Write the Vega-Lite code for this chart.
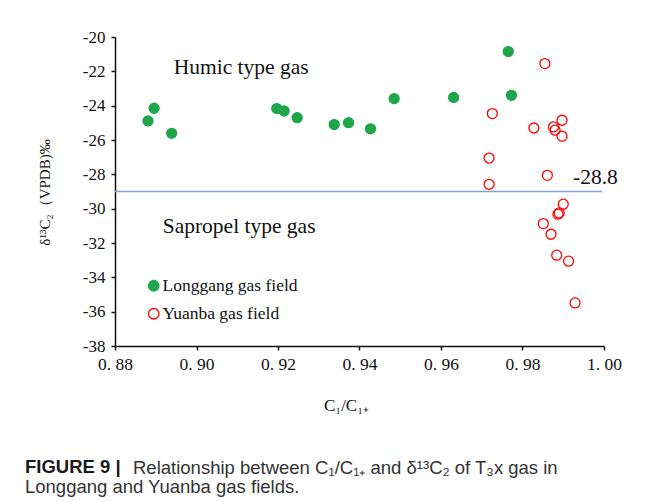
{
  "$schema": "https://vega.github.io/schema/vega-lite/v6.json",
  "autosize": {"type": "pad"},
  "padding": {"left": 25, "top": 28, "right": 0, "bottom": 0},
  "background": "white",
  "config": {"view": {"stroke": null}},
  "title": {
    "text": "FIGURE 9 |",
    "subtitle": "Longgang and Yuanba gas fields.",
    "orient": "bottom",
    "anchor": "start",
    "frame": "group",
    "dx": -90,
    "dy": -20,
    "offset": 0,
    "font": "Liberation Sans",
    "fontSize": 18.5,
    "fontWeight": "bold",
    "color": "#1a1a1a",
    "subtitleFont": "Liberation Sans",
    "subtitleFontSize": 18.5,
    "subtitleColor": "#333333",
    "subtitlePadding": 2
  },
  "datasets": {
    "points": [
      {"field": "Longgang gas field", "ratio": 0.8881, "d13C2": -24.89},
      {"field": "Longgang gas field", "ratio": 0.8896, "d13C2": -24.15},
      {"field": "Longgang gas field", "ratio": 0.8939, "d13C2": -25.61},
      {"field": "Longgang gas field", "ratio": 0.9197, "d13C2": -24.17},
      {"field": "Longgang gas field", "ratio": 0.9215, "d13C2": -24.31},
      {"field": "Longgang gas field", "ratio": 0.9247, "d13C2": -24.70},
      {"field": "Longgang gas field", "ratio": 0.9338, "d13C2": -25.10},
      {"field": "Longgang gas field", "ratio": 0.9373, "d13C2": -24.99},
      {"field": "Longgang gas field", "ratio": 0.9427, "d13C2": -25.35},
      {"field": "Longgang gas field", "ratio": 0.9485, "d13C2": -23.59},
      {"field": "Longgang gas field", "ratio": 0.9631, "d13C2": -23.52},
      {"field": "Longgang gas field", "ratio": 0.9765, "d13C2": -20.85},
      {"field": "Longgang gas field", "ratio": 0.9773, "d13C2": -23.40},
      {"field": "Yuanba gas field", "ratio": 0.9855, "d13C2": -21.55},
      {"field": "Yuanba gas field", "ratio": 0.9726, "d13C2": -24.46},
      {"field": "Yuanba gas field", "ratio": 0.9828, "d13C2": -25.30},
      {"field": "Yuanba gas field", "ratio": 0.9897, "d13C2": -24.85},
      {"field": "Yuanba gas field", "ratio": 0.9876, "d13C2": -25.24},
      {"field": "Yuanba gas field", "ratio": 0.9880, "d13C2": -25.43},
      {"field": "Yuanba gas field", "ratio": 0.9897, "d13C2": -25.78},
      {"field": "Yuanba gas field", "ratio": 0.9718, "d13C2": -27.05},
      {"field": "Yuanba gas field", "ratio": 0.9861, "d13C2": -28.06},
      {"field": "Yuanba gas field", "ratio": 0.9718, "d13C2": -28.58},
      {"field": "Yuanba gas field", "ratio": 0.9900, "d13C2": -29.74},
      {"field": "Yuanba gas field", "ratio": 0.9890, "d13C2": -30.25},
      {"field": "Yuanba gas field", "ratio": 0.9887, "d13C2": -30.32},
      {"field": "Yuanba gas field", "ratio": 0.9851, "d13C2": -30.87},
      {"field": "Yuanba gas field", "ratio": 0.9870, "d13C2": -31.49},
      {"field": "Yuanba gas field", "ratio": 0.9884, "d13C2": -32.71},
      {"field": "Yuanba gas field", "ratio": 0.9913, "d13C2": -33.06},
      {"field": "Yuanba gas field", "ratio": 0.9929, "d13C2": -35.49}
    ],
    "notes": [
      {"label": "Humic type gas", "ratio": 0.8944, "d13C2": -21.79},
      {"label": "Sapropel type gas", "ratio": 0.8917, "d13C2": -31.06},
      {"label": "-28.8", "ratio": 0.9924, "d13C2": -28.22}
    ],
    "boundary": [
      {"ratio": 0.88, "ratio_end": 0.9995, "d13C2": -29.0}
    ]
  },
  "vconcat": [
    {
      "width": 489,
      "height": 309,
      "title": {
        "text": "Relationship between C₁/C₁₊ and δ¹³C₂ of T₃x gas in",
        "orient": "bottom",
        "anchor": "start",
        "frame": "group",
        "dx": 18,
        "offset": 46,
        "font": "Liberation Sans",
        "fontSize": 18.5,
        "fontWeight": "normal",
        "color": "#333333"
      },
      "encoding": {
        "x": {
          "field": "ratio",
          "type": "quantitative",
          "scale": {"domain": [0.88, 1.0], "nice": false, "zero": false},
          "axis": {
            "values": [0.88, 0.9, 0.92, 0.94, 0.96, 0.98, 1.0],
            "labelExpr": "replace(format(datum.value, '.2f'), '.', '. ')",
            "labelFlush": false,
            "labelOverlap": false,
            "title": "C₁/C₁₊",
            "titleFont": "Liberation Serif",
            "titleFontSize": 17,
            "titleFontWeight": "normal",
            "titleColor": "#111111",
            "titleX": 231,
            "titleY": 59,
            "titleBaseline": "middle",
            "titleAlign": "center",
            "labelFont": "Liberation Serif",
            "labelFontSize": 17.5,
            "labelColor": "#111111",
            "labelPadding": 5,
            "tickSize": 4,
            "tickColor": "#111111",
            "tickWidth": 1.5,
            "domainColor": "#111111",
            "domainWidth": 1.5,
            "grid": false
          }
        },
        "y": {
          "field": "d13C2",
          "type": "quantitative",
          "scale": {"domain": [-38, -20], "nice": false, "zero": false},
          "axis": {
            "values": [-38, -36, -34, -32, -30, -28, -26, -24, -22, -20],
            "labelExpr": "toString(datum.value)",
            "labelFlush": false,
            "labelOverlap": false,
            "title": "δ¹³C₂（VPDB)‰",
            "titleFont": "Liberation Serif",
            "titleFontSize": 15,
            "titleFontWeight": "normal",
            "titleColor": "#111111",
            "titleX": -71,
            "titleY": 155,
            "titleAngle": -90,
            "titleAlign": "center",
            "titleBaseline": "middle",
            "labelFont": "Liberation Serif",
            "labelFontSize": 17,
            "labelColor": "#111111",
            "labelPadding": 6,
            "tickSize": 4,
            "tickColor": "#111111",
            "tickWidth": 1.5,
            "domainColor": "#111111",
            "domainWidth": 1.5,
            "grid": false
          }
        }
      },
      "layer": [
        {
          "data": {"name": "boundary"},
          "mark": {"type": "rule", "color": "#7fa6d8", "strokeWidth": 1.6},
          "encoding": {"x2": {"field": "ratio_end"}}
        },
        {
          "data": {"name": "points"},
          "mark": {"type": "point", "shape": "circle", "size": 100, "strokeWidth": 1.3, "opacity": 1},
          "encoding": {
            "fill": {
              "field": "field",
              "type": "nominal",
              "scale": {"domain": ["Longgang gas field", "Yuanba gas field"], "range": ["#1fa64b", "transparent"]},
              "legend": {
                "title": null,
                "orient": "none",
                "legendX": 30,
                "legendY": 240,
                "padding": 0,
                "symbolSize": 110,
                "symbolStrokeWidth": 1.3,
                "labelFont": "Liberation Serif",
                "labelFontSize": 17.5,
                "labelColor": "#111111",
                "labelOffset": 0,
                "rowPadding": 9
              }
            },
            "stroke": {
              "field": "field",
              "type": "nominal",
              "scale": {"domain": ["Longgang gas field", "Yuanba gas field"], "range": ["#1fa64b", "#ff0000"]},
              "legend": {
                "title": null,
                "orient": "none",
                "legendX": 30,
                "legendY": 240,
                "padding": 0,
                "symbolSize": 110,
                "symbolStrokeWidth": 1.3,
                "labelFont": "Liberation Serif",
                "labelFontSize": 17.5,
                "labelColor": "#111111",
                "labelOffset": 0,
                "rowPadding": 9
              }
            }
          }
        },
        {
          "data": {"name": "notes"},
          "mark": {"type": "text", "align": "left", "baseline": "middle", "font": "Liberation Serif", "fontSize": 21.5, "color": "#111111"},
          "encoding": {"text": {"field": "label"}}
        }
      ]
    }
  ]
}
